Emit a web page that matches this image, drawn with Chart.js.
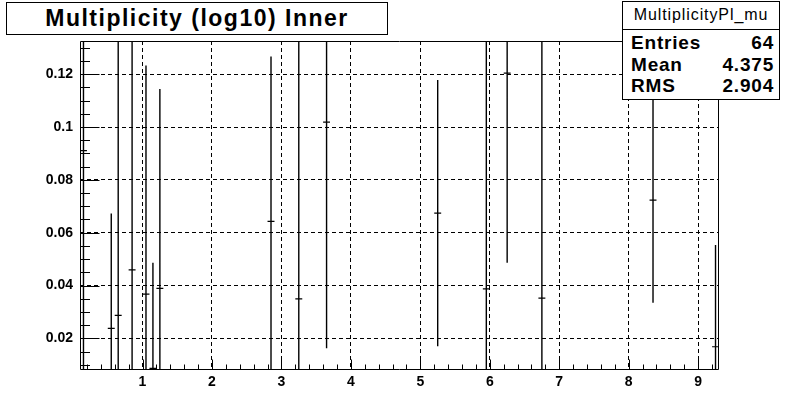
<!DOCTYPE html>
<html lang="en-US">
<head>
<meta charset="utf-8">
<title>Multiplicity (log10) Inner</title>
<script src="https://cdn.jsdelivr.net/npm/chart.js@4/dist/chart.umd.min.js"></script>
<style>
  body { margin: 0; background: #fff; }
  #wrap { position: relative; width: 799px; height: 412px; overflow: hidden; }
  #chart { position: absolute; left: 0; top: 0; }
  .box { position: absolute; background: #fff; border: 1px solid #000; box-sizing: border-box;
         font-family: "Liberation Sans", Arial, sans-serif; color: #000; }
  #title { left: 6px; top: 2px; width: 382px; height: 33px; text-align: center;
           font-weight: bold; font-size: 23px; letter-spacing: 1.5px; line-height: 31px; }
  #stats { left: 622px; top: 1px; width: 158px; height: 99px; }
  #stats .head { position: absolute; left: 0; top: 0; width: 100%; height: 27px; border-bottom: 1px solid #000;
                 text-align: center; font-size: 16px; letter-spacing: 0.9px; line-height: 25px; }
  #stats .row { position: absolute; left: 8px; right: 5px; height: 22px; font-weight: bold; font-size: 19px;
                letter-spacing: 0.8px; line-height: 22px; }
  #stats .row span:last-child { position: absolute; right: 0; }
</style>
</head>
<body>
<div id="wrap">
  <canvas id="chart" width="799" height="412"></canvas>
  <div id="title" class="box">Multiplicity (log10) Inner</div>
  <div id="stats" class="box">
    <div class="head">MultiplicityPl_mu</div>
    <div class="row" style="top:30px"><span>Entries</span><span>64</span></div>
    <div class="row" style="top:52px"><span>Mean</span><span>4.375</span></div>
    <div class="row" style="top:73px"><span>RMS</span><span>2.904</span></div>
  </div>
</div>
<script>
// histogram bins that have content (log10 multiplicity)
var binCenters = [0.15, 0.55, 0.65, 0.85, 1.05, 1.15, 1.25, 2.85, 3.25, 3.65, 5.25, 5.95, 6.25, 6.75, 8.35, 9.25];
var binValues  = [0.0911, 0.0238, 0.0287, 0.0459, 0.0367, 0.0086, 0.0389, 0.0643, 0.0349, 0.1019, 0.0674, 0.0387, 0.1204, 0.0352, 0.0723, 0.0168];
var binErrors  = [0.090, 0.0435, 0.110, 0.095, 0.0866, 0.0400, 0.0755, 0.0624, 0.105, 0.0857, 0.0504, 0.100, 0.0718, 0.105, 0.0388, 0.0385];
var binHalfWidth = 0.05;

var xTicks = [1, 2, 3, 4, 5, 6, 7, 8, 9];
var yTicks = [0.02, 0.04, 0.06, 0.08, 0.1, 0.12];
var xRange = [0.1, 9.3];
var yRange = [0.008, 0.1326];

// error bars: vertical segments, broken by null points
var vertPts = [], horzPts = [];
binCenters.forEach(function(x, i) {
  vertPts.push({x: x, y: binValues[i] - binErrors[i]});
  vertPts.push({x: x, y: binValues[i] + binErrors[i]});
  vertPts.push({x: x, y: null});
  horzPts.push({x: x - binHalfWidth, y: binValues[i]});
  horzPts.push({x: x + binHalfWidth, y: binValues[i]});
  horzPts.push({x: x, y: null});
});

// ROOT-like frame with inward ticks
var framePlugin = {
  id: 'frame',
  afterDatasetsDraw: function(chart) {
    var ctx = chart.ctx, a = chart.chartArea;
    var xs = chart.scales.x, ys = chart.scales.y;
    ctx.save();
    ctx.strokeStyle = '#000';
    ctx.lineWidth = 1;
    ctx.beginPath();
    var L = Math.round(a.left) + 0.5, R = Math.round(a.right) - 0.5;
    var T = Math.round(a.top) + 0.5, B = Math.round(a.bottom) - 0.5;
    ctx.rect(L, T, R - L, B - T);
    // x ticks every 0.2, major at integers
    for (var k = 1; k <= 46; k++) {
      var v = k * 0.2;
      if (v < xRange[0] || v > xRange[1]) continue;
      var px = Math.round(xs.getPixelForValue(v)) + 0.5;
      var len = (k % 5 === 0) ? 10 : 5;
      ctx.moveTo(px, B);
      ctx.lineTo(px, B - len);
    }
    // y ticks every 0.005, major every 0.02
    for (var j = 2; j <= 26; j++) {
      var w = j * 0.005;
      if (w < yRange[0] || w > yRange[1]) continue;
      var py = Math.round(ys.getPixelForValue(w)) + 0.5;
      var ln = (j % 4 === 0) ? 19 : 9.5;
      ctx.moveTo(L, py);
      ctx.lineTo(L + ln, py);
    }
    ctx.stroke();
    ctx.restore();
  }
};

var tickFont = { family: '"Liberation Sans", Arial, sans-serif', size: 14, weight: 'bold' };

new Chart(document.getElementById('chart').getContext('2d'), {
  type: 'scatter',
  data: {
    datasets: [{
      data: vertPts,
      showLine: true,
      spanGaps: false,
      borderColor: '#000',
      borderWidth: 1.4,
      pointRadius: 0
    }, {
      data: horzPts,
      showLine: true,
      spanGaps: false,
      borderColor: '#000',
      borderWidth: 1.2,
      pointRadius: 0
    }]
  },
  options: {
    responsive: false,
    animation: false,
    layout: { padding: { top: 41, right: 80, left: 0, bottom: 0 } },
    plugins: { legend: { display: false }, tooltip: { enabled: false }, title: { display: false } },
    scales: {
      x: {
        type: 'linear',
        min: xRange[0],
        max: xRange[1],
        afterBuildTicks: function(s) { s.ticks = xTicks.map(function(v) { return {value: v}; }); },
        afterFit: function(s) { s.height = 42; },
        ticks: { font: tickFont, color: '#000', padding: 4, autoSkip: false, maxRotation: 0,
                 callback: function(v) { return String(v); } },
        grid: { color: '#000', lineWidth: 1, drawTicks: false },
        border: { display: false, dash: [4, 3] }
      },
      y: {
        type: 'linear',
        min: yRange[0],
        max: yRange[1],
        afterBuildTicks: function(s) { s.ticks = yTicks.map(function(v) { return {value: v}; }); },
        afterFit: function(s) { s.width = 80; },
        ticks: { font: tickFont, color: '#000', padding: 7,
                 callback: function(v) { return String(+v.toFixed(2)); } },
        grid: { color: '#000', lineWidth: 1, drawTicks: false },
        border: { display: false, dash: [4, 3] }
      }
    }
  },
  plugins: [framePlugin]
});
</script>
</body>
</html>
